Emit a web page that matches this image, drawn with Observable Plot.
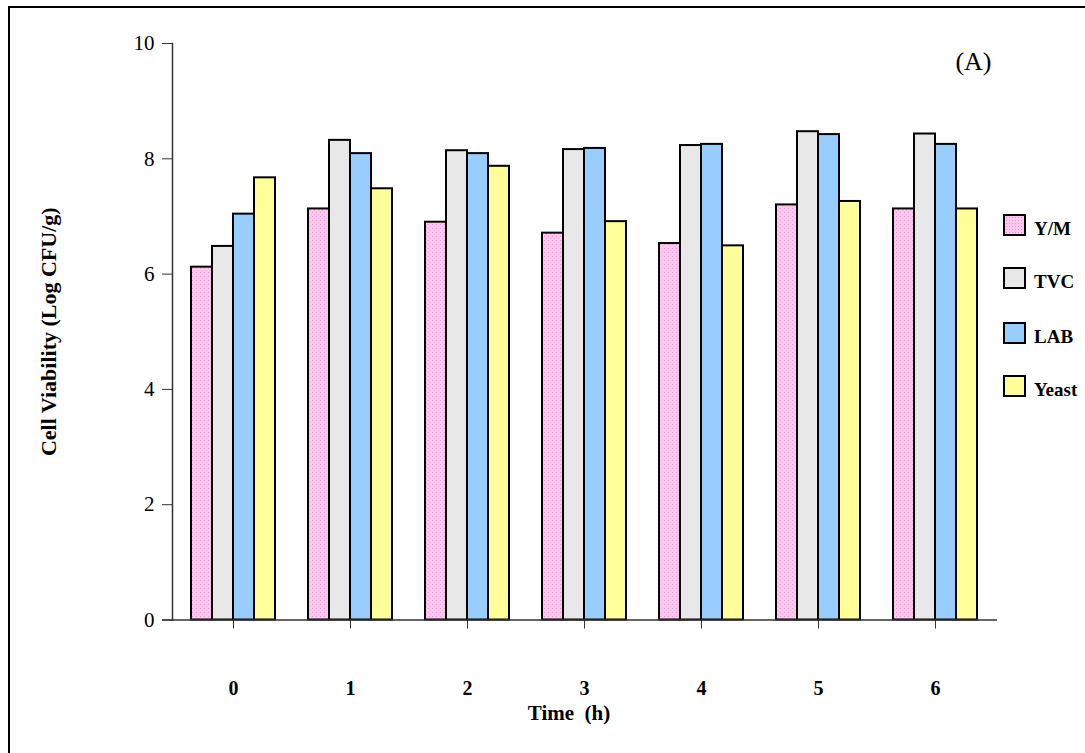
<!DOCTYPE html>
<html>
<head>
<meta charset="utf-8">
<script src="https://cdn.jsdelivr.net/npm/d3@7"></script>
<script src="https://cdn.jsdelivr.net/npm/@observablehq/plot@0.6"></script>
<style>
  html, body { margin: 0; padding: 0; background: #fff; overflow: hidden; }
  #wrap { position: relative; width: 1085px; height: 753px; }
  #border { position: absolute; left: 8px; top: 6px; width: 1200px; height: 900px; border: 2px solid #000; pointer-events: none; }
  #legend { position: absolute; left: 1003px; top: 214px; font-family: "Liberation Serif", serif; font-weight: bold; font-size: 19px; }
  .item { position: absolute; left: 0; white-space: nowrap; }
  .sw { position: absolute; left: 0; top: 0; width: 23px; height: 22px; box-sizing: border-box; border: 2px solid #000; }
  .lab { position: absolute; left: 31px; top: 5px; line-height: 20px; }
</style>
</head>
<body>
<div id="wrap">
  <div id="chart"></div>
  <div id="legend"></div>
  <div id="border"></div>
</div>
<script>
const times = ["0", "1", "2", "3", "4", "5", "6"];
const seriesNames = ["Y/M", "TVC", "LAB", "Yeast"];
const ymValues    = [6.12, 7.13, 6.90, 6.71, 6.53, 7.20, 7.13];
const tvcValues   = [6.48, 8.32, 8.14, 8.16, 8.23, 8.47, 8.43];
const labValues   = [7.04, 8.09, 8.09, 8.18, 8.25, 8.42, 8.25];
const yeastValues = [7.67, 7.48, 7.87, 6.91, 6.49, 7.26, 7.13];
const yTicks = [0, 2, 4, 6, 8, 10];

const seriesValues = [ymValues, tvcValues, labValues, yeastValues];
const fills = ["url(#ymPattern)", "#e8e8e8", "#99ccff", "#ffff99"];
const barW = 21;

const barMarks = seriesNames.map((s, i) =>
  Plot.barY(times.map((t, j) => ({time: t, value: seriesValues[i][j], series: s})), {
    x: "time", y: "value", fill: fills[i], stroke: "#000", strokeWidth: 2,
    insetLeft: i * barW, insetRight: (3 - i) * barW
  })
);

const chart = Plot.plot({
  width: 1085,
  height: 753,
  marginLeft: 172,
  marginRight: 90,
  marginTop: 43,
  marginBottom: 133.5,
  style: {fontFamily: "Liberation Serif, serif", color: "#000", background: "transparent"},
  x: {domain: times, paddingInner: 0.285, paddingOuter: 0.1425},
  y: {domain: [0, 10]},
  marks: [
    ...barMarks,
    Plot.ruleY([0], {stroke: "#333", strokeWidth: 1.5, insetLeft: -10, insetRight: -2}),
    Plot.frame({anchor: "left", stroke: "#333", strokeWidth: 1.5}),
    Plot.axisY(yTicks, {tickSize: 10, tickPadding: 8, fontSize: 21, label: null, stroke: "#333", tickFormat: d => String(d)}),
    Plot.axisX({tickSize: 9, tickPadding: 52, fontSize: 20, fontWeight: "bold", label: null, stroke: "#333"}),
    Plot.text(["(A)"], {frameAnchor: "top-right", dx: -4, dy: 8, textAnchor: "end", lineAnchor: "top", fontSize: 26}),
    Plot.text(["Cell Viability (Log CFU/g)"], {frameAnchor: "left", rotate: -90, dx: -124, textAnchor: "middle", fontWeight: "bold", fontSize: 22}),
    Plot.text(["Time\u00a0 (h)"], {frameAnchor: "bottom", dx: -15, dy: 100, textAnchor: "middle", fontWeight: "bold", fontSize: 21})
  ]
});

const ns = "http://www.w3.org/2000/svg";
const defs = document.createElementNS(ns, "defs");
defs.innerHTML = `
  <pattern id="ymPattern" patternUnits="userSpaceOnUse" width="4" height="4">
    <rect width="4" height="4" fill="#fcc8f0"></rect>
    <rect x="0" y="0" width="1" height="1" fill="#f29ad6"></rect>
    <rect x="2" y="2" width="1" height="1" fill="#f7b0e2"></rect>
  </pattern>`;
chart.insertBefore(defs, chart.firstChild);

document.getElementById("chart").appendChild(chart);

// legend
const legendFills = ["#fcc8f0", "#e8e8e8", "#99ccff", "#ffff99"];
const legendTops = [0, 53, 108, 161];
const legend = document.getElementById("legend");
seriesNames.forEach((s, i) => {
  const item = document.createElement("div");
  item.className = "item";
  item.style.top = legendTops[i] + "px";
  const sw = document.createElement("div");
  sw.className = "sw";
  sw.style.background = legendFills[i];
  if (i === 0) {
    sw.style.backgroundImage = "radial-gradient(#f090d0 0.7px, transparent 0.9px)";
    sw.style.backgroundSize = "3px 3px";
  }
  const lab = document.createElement("span");
  lab.className = "lab";
  lab.textContent = s;
  item.appendChild(sw);
  item.appendChild(lab);
  legend.appendChild(item);
});
</script>
</body>
</html>
